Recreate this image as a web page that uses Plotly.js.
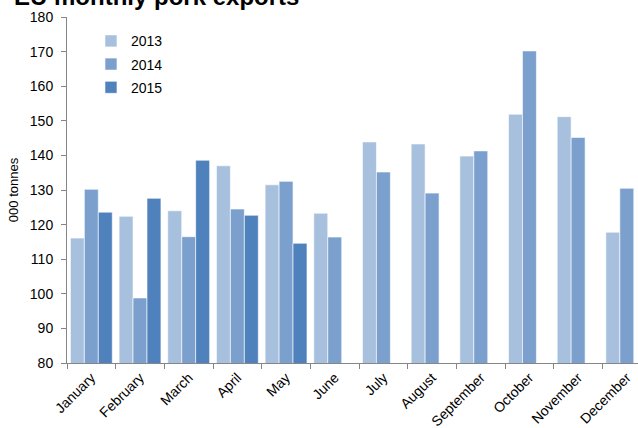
<!DOCTYPE html>
<html>
<head>
<meta charset="utf-8">
<script src="https://cdn.plot.ly/plotly-3.0.1.min.js"></script>
<style>html,body{margin:0;padding:0;background:#fff;}#chart{width:638px;height:428px;}</style>
</head>
<body>
<div id="chart"></div>
<script>
const months = ["January","February","March","April","May","June","July","August","September","October","November","December"];
const exports2013 = [116.1, 122.4, 124.0, 137.0, 131.5, 123.3, 143.9, 143.3, 139.8, 151.9, 151.2, 117.8];
const exports2014 = [130.2, 98.8, 116.5, 124.5, 132.5, 116.4, 135.2, 129.1, 141.3, 170.2, 145.2, 130.5];
const exports2015 = [123.6, 127.6, 138.6, 122.7, 114.6, null, null, null, null, null, null, null];
const seriesNames = ["2013", "2014", "2015"];
const seriesColors = ["#A7C0DE", "#7BA0CD", "#4F81BD"];
const seriesValues = [exports2013, exports2014, exports2015];
const chartTitle = "EU monthly pork exports";

const traces = seriesValues.map((vals, i) => ({
  type: "bar",
  name: seriesNames[i],
  x: months,
  y: vals,
  legendgroup: "g" + i,
  marker: {color: seriesColors[i], line: {color: "#ffffff", width: 0.6}}
}));

const font = "Liberation Sans, Arial, sans-serif";
const layout = {
  width: 638, height: 428,
  margin: {l: 67, r: 0, t: 17, b: 65},
  paper_bgcolor: "#ffffff", plot_bgcolor: "#ffffff",
  barmode: "group", bargap: 0.14, bargroupgap: 0,
  font: {family: font, size: 14, color: "#000000"},
  annotations: [{
    text: "<b>" + chartTitle + "</b>", xref: "paper", yref: "paper",
    x: -0.0963, xanchor: "left", y: 1.0145, yanchor: "bottom",
    showarrow: false, font: {family: font, size: 24, color: "#000000"}
  }],
  xaxis: {
    type: "category", range: [-0.5, 11.23], tickangle: -45,
    showline: true, linecolor: "#868686", linewidth: 1,
    ticks: "outside", tickson: "boundaries", ticklen: 5, tickcolor: "#868686",
    showgrid: false, zeroline: false, tickfont: {family: font, size: 14}
  },
  yaxis: {
    range: [80, 180], dtick: 10, tick0: 80,
    showline: true, linecolor: "#868686", linewidth: 1,
    ticks: "outside", ticklen: 5, tickcolor: "#868686", ticklabelstandoff: 5,
    showgrid: false, zeroline: false, tickfont: {family: font, size: 14},
    title: {text: "000 tonnes", font: {family: font, size: 13}, standoff: 8}
  },
  showlegend: true,
  legend: {x: 0.042, y: 0.976, xanchor: "left", yanchor: "top", bgcolor: "rgba(0,0,0,0)",
           font: {family: font, size: 14}, tracegroupgap: 2, itemwidth: 30}
};

Plotly.newPlot("chart", traces, layout, {displayModeBar: false, staticPlot: true});
</script>
</body>
</html>
